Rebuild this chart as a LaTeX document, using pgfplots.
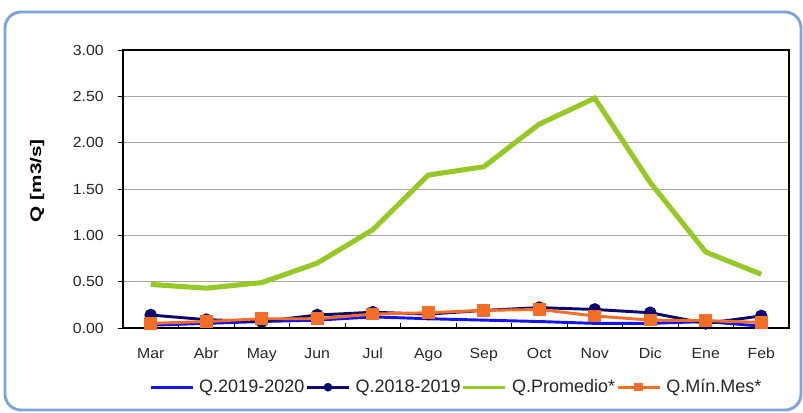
\documentclass[border=0pt]{standalone}
\usepackage{pgfplots}
\pgfplotsset{compat=1.18}
\usepackage{fontspec}
\setmainfont[FakeStretch=1.08]{Liberation Sans}
\newfontfamily\labfont[FakeStretch=1.35]{Liberation Sans}
\newfontfamily\legfont{Liberation Sans}
\definecolor{qblue}{RGB}{20,20,240}
\definecolor{qnavy}{RGB}{10,10,110}
\definecolor{qgreen}{RGB}{150,200,40}
\definecolor{qorange}{RGB}{245,110,40}
\definecolor{framec}{RGB}{125,165,220}
\begin{document}
\begin{tikzpicture}[x=0.75pt,y=0.75pt]
\useasboundingbox (-123,-84) rectangle (680,328);
\draw[framec, line width=2.2pt, rounded corners=12pt] (-118,-82) rectangle (678,316);
\begin{axis}[
  at={(0,0)}, anchor=south west,
  scale only axis, width=499.5pt, height=208.5pt,
  xmin=-0.5, xmax=11.5, ymin=0, ymax=3,
  xtick={0,...,11},
  xticklabels={Mar,Abr,May,Jun,Jul,Ago,Sep,Oct,Nov,Dic,Ene,Feb},
  major x tick style={draw=none},
  minor xtick={0.5,1.5,...,10.5},
  minor x tick style={black, line width=0.6pt},
  minor tick length=4pt,
  ytick={0,0.5,...,3},
  ymajorgrids, grid style={gray!70, line width=0.5pt},
  y tick style={black, line width=0.6pt},
  major tick length=4pt,
  tick align=outside,
  xtick align=inside,
  xtick pos=bottom, ytick pos=left,
  axis line style={black, line width=0.8pt},
  /pgf/number format/assume math mode=true,
  yticklabel style={/pgf/number format/.cd, fixed, fixed zerofill, precision=2, /tikz/.cd, xshift=-7pt},
  xticklabel style={yshift=-11.5pt},
  tick label style={font=\fontsize{11}{13}\selectfont, text=black!85},
  ylabel={Q [m3/s]},
  ylabel style={font=\labfont\bfseries\fontsize{11.5}{13}\selectfont, at={(axis description cs:-0.129,0.53)}, anchor=center},
  legend columns=4,
  legend style={draw=none, fill=none, at={(axis description cs:0.5,-0.213)}, anchor=center,
    font=\legfont\fontsize{13.5}{15}\selectfont, inner sep=0pt,
    nodes={inner xsep=1pt, text=black!85},
    /tikz/every even column/.append style={column sep=0pt},
    /tikz/every odd column/.append style={column sep=3pt}},
  legend image code/.code={\draw[mark repeat=2,mark phase=2, line width=2pt, mark size=2.2pt] plot coordinates {(0pt,0pt)(15.75pt,0pt)(31.5pt,0pt)};},
]
\addplot[qblue, line width=2.2pt] coordinates {
(0,0.03)(1,0.05)(2,0.07)(3,0.085)(4,0.12)(5,0.10)(6,0.085)(7,0.07)(8,0.05)(9,0.05)(10,0.07)(11,0.02)};
\addlegendentry{Q.2019-2020}
\addplot[qnavy, line width=2.2pt, mark=*, mark size=3.6pt] coordinates {
(0,0.14)(1,0.09)(2,0.07)(3,0.14)(4,0.17)(5,0.15)(6,0.19)(7,0.22)(8,0.20)(9,0.165)(10,0.05)(11,0.13)};
\addlegendentry{Q.2018-2019}
\addplot[qgreen, line width=3.8pt] coordinates {
(0,0.47)(1,0.43)(2,0.49)(3,0.70)(4,1.06)(5,1.65)(6,1.74)(7,2.20)(8,2.48)(9,1.57)(10,0.82)(11,0.58)};
\addlegendentry{Q.Promedio*}
\addplot[qorange, line width=2.2pt, mark=square*, mark size=3.6pt] coordinates {
(0,0.05)(1,0.07)(2,0.10)(3,0.10)(4,0.15)(5,0.165)(6,0.19)(7,0.20)(8,0.13)(9,0.085)(10,0.08)(11,0.06)};
\addlegendentry{Q.Mín.Mes*}
\end{axis}
\end{tikzpicture}
\end{document}
